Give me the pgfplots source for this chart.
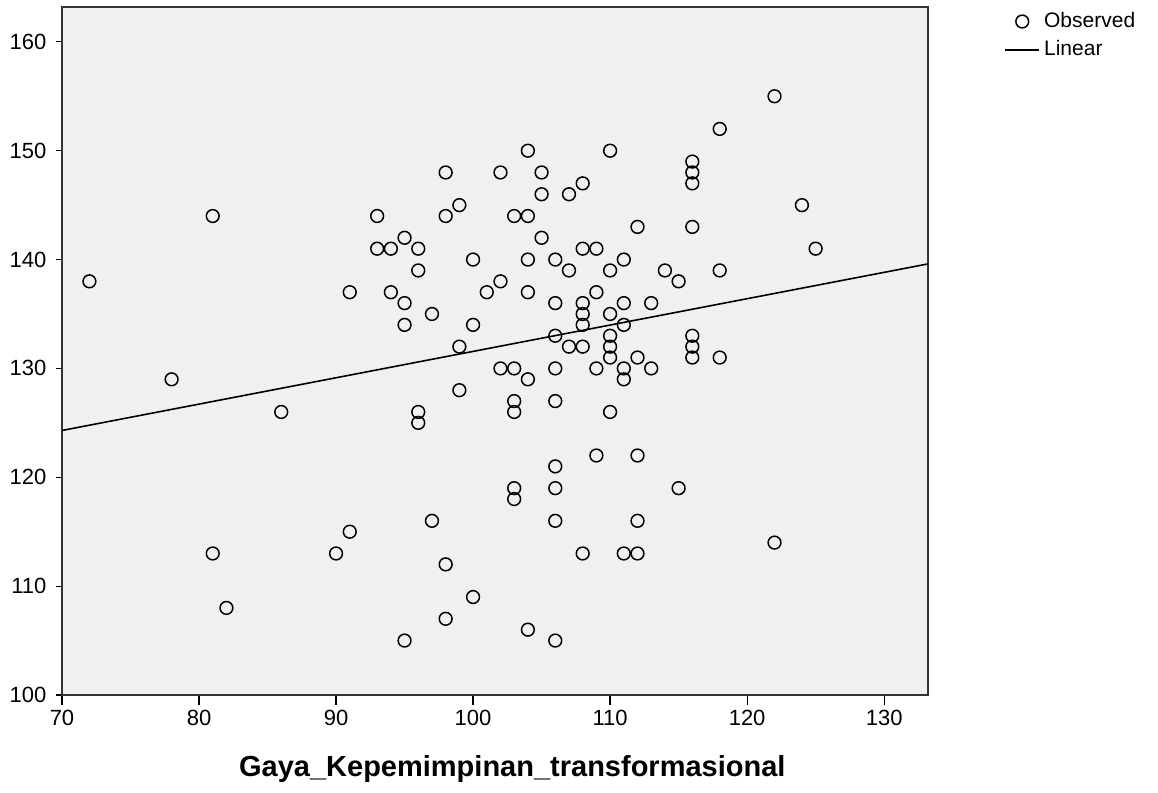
\documentclass[border=0pt]{standalone}
\usepackage{pgfplots}
\pgfplotsset{compat=1.18}
\usepackage{fontspec}
\setmainfont{Liberation Sans}
\definecolor{bg}{HTML}{F0F0F0}
\begin{document}
\begin{tikzpicture}
\begin{axis}[
    name=ax,
    scale only axis,
    width=433pt, height=344pt,
    xmin=70, xmax=133.2,
    ymin=100, ymax=163.2,
    xtick={70,80,...,130},
    ytick={100,110,...,160},
    xtick pos=bottom, ytick pos=left,
    tick align=outside,
    xtick style={black, line width=0.6pt, /pgfplots/major tick length=5pt},
    ytick style={black, line width=0.6pt, /pgfplots/major tick length=3pt},
    axis line style={draw=black!80, line width=1pt},
    axis background/.style={fill=bg},
    ticklabel style={font=\fontsize{11}{13}\selectfont},
    /pgf/number format/assume math mode=true,
    xlabel={Gaya\_Kepemimpinan\_transformasional},
    xlabel style={font=\bfseries\fontsize{14.5}{16}\selectfont,
        at={(rel axis cs:0.52,0)}, anchor=base, yshift=-40.5pt},
    legend cell align=left,
    legend style={draw=none, fill=none, at={(1,1)}, anchor=north west,
        xshift=35pt, yshift=1.5pt, font=\fontsize{10.5}{12}\selectfont,
        row sep=1pt},
]
\addplot[only marks, mark=o, mark size=3.2pt,
    mark options={line width=0.75pt, black}] coordinates {
(72,138) (78,129) (81,144) (81,113) (82,108) (86,126) (90,113)
(91,137) (91,115) (93,144) (93,141) (94,141) (94,137) (95,142)
(95,136) (95,134) (95,105) (96,141) (96,139) (96,126) (96,125)
(97,135) (97,116) (98,148) (98,144) (98,112) (98,107) (99,145)
(99,132) (99,128) (100,140) (100,134) (100,109) (101,137) (102,148)
(102,138) (102,130) (103,144) (103,130) (103,127) (103,126) (103,119)
(103,118) (104,150) (104,144) (104,140) (104,137) (104,129) (104,106)
(105,148) (105,146) (105,142) (106,140) (106,136) (106,133) (106,130)
(106,127) (106,121) (106,119) (106,116) (106,105) (107,146) (107,139)
(107,132) (108,147) (108,141) (108,136) (108,135) (108,134) (108,132)
(108,113) (109,141) (109,137) (109,130) (109,122) (110,150) (110,139)
(110,135) (110,133) (110,132) (110,131) (110,126) (111,140) (111,136)
(111,134) (111,130) (111,129) (111,113) (112,143) (112,131) (112,122)
(112,116) (112,113) (113,136) (113,130) (114,139) (115,138) (115,119)
(116,149) (116,148) (116,147) (116,143) (116,133) (116,132) (116,131)
(118,152) (118,139) (118,131) (122,155) (122,114) (124,145) (125,141)
};
\addlegendentry{Observed}
\addplot[black, line width=0.8pt] coordinates {(70,124.3) (133.2,139.6)};
\addlegendentry{Linear}
\end{axis}
\path ([shift={(-31pt,-49pt)}]ax.south west) rectangle ++(579pt,396.5pt);
\end{tikzpicture}
\end{document}
